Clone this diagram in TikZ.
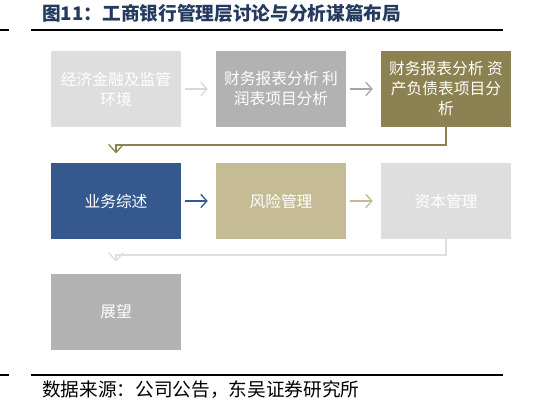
\documentclass[tikz,border=0pt]{standalone}
\usepackage{fontspec}
\setmainfont{Noto Sans CJK SC}
\usetikzlibrary{arrows.meta}
\definecolor{cLight}{HTML}{DEDEDE}
\definecolor{cGray}{HTML}{B2B2B2}
\definecolor{cOlive}{HTML}{8C8150}
\definecolor{cBlue}{HTML}{35598F}
\definecolor{cTan}{HTML}{C5BC96}
\definecolor{cTitle}{HTML}{243A5E}
\definecolor{cArrLight}{HTML}{D9D9D9}
\definecolor{cArrGray}{HTML}{A6A6A6}
\tikzset{
  box/.style={rectangle, minimum width=97.5pt, minimum height=57pt, inner sep=2pt,
    text=white, font=\fontsize{11.8}{15}\selectfont, align=center},
  flow/.style={line width=1pt, -{Straight Barb[length=4.5pt, width=10pt, line width=1pt]},
    shorten <=3pt, shorten >=6pt},
  link/.style={line width=1.2pt, -{Straight Barb[length=6pt, width=11pt, line width=1pt]}},
  rule/.style={line width=1.4pt, black}
}
\begin{document}
\begin{tikzpicture}[x=0.75pt, y=-0.75pt]
\useasboundingbox (0,0) rectangle (552,405);
% title and rules
\node[anchor=west, text=cTitle, font=\fontsize{14}{16}\selectfont\bfseries, inner sep=0pt] (title) at (42,13) {图11：工商银行管理层讨论与分析谋篇布局};
\coordinate (t0) at (0,30); \coordinate (t1) at (9,30);
\coordinate (t2) at (31,30); \coordinate (t3) at (503,30);
\draw[rule] (t0) -- (t1); \draw[rule] (t2) -- (t3);
\coordinate (b0) at (0,375); \coordinate (b1) at (9,375);
\coordinate (b2) at (31,375); \coordinate (b3) at (503,375);
\draw[rule] (b0) -- (b1); \draw[rule] (b2) -- (b3);
\node[anchor=west, font=\fontsize{14}{16}\selectfont, inner sep=0pt] (src) at (42,390) {数据来源：公司公告，东吴证券研究所};
% boxes
\node[box, fill=cLight] (n1) at (116,89) {经济金融及监管\\环境};
\node[box, fill=cGray] (n2) at (281,89) {财务报表分析 利\\润表项目分析};
\node[box, fill=cOlive] (n3) at (446,89) {财务报表分析 资\\产负债表项目分\\析};
\node[box, fill=cBlue] (n4) at (116,201) {业务综述};
\node[box, fill=cTan] (n5) at (281,201) {风险管理};
\node[box, fill=cLight] (n6) at (446,201) {资本管理};
\node[box, fill=cGray] (n7) at (116,312) {展望};
% arrows
\draw[flow, cArrLight] (n1) -- (n2);
\draw[flow, cArrGray] (n2) -- (n3);
\draw[flow, cBlue] (n4) -- (n5);
\draw[flow, cTan] (n5) -- (n6);
\draw[link, cOlive, shorten >=7pt] (n3.south) -- ++(0,18) -| (n4.north);
\draw[link, cLight, shorten >=9pt] (n6.south) -- ++(0,16) -| (n7.north);
\end{tikzpicture}
\end{document}
